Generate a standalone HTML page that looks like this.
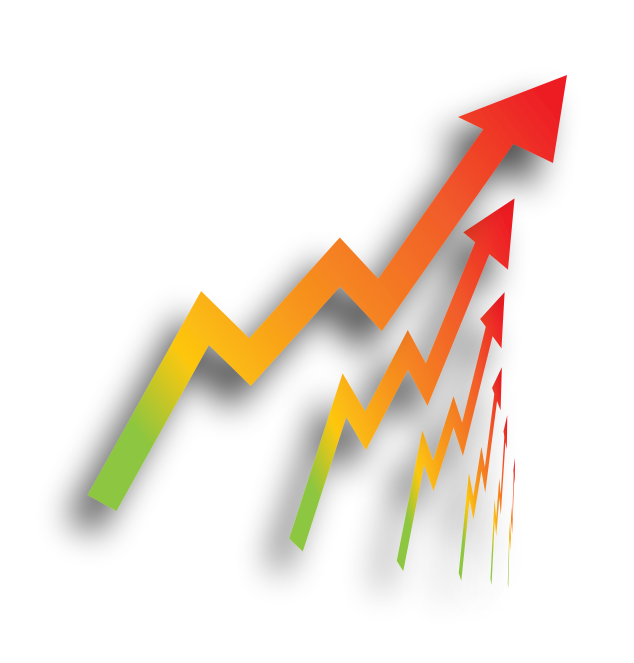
<!DOCTYPE html>
<html><head><meta charset="utf-8"><style>
html,body{margin:0;padding:0;background:#fff;width:634px;height:663px;overflow:hidden}
svg{display:block}
</style></head><body>
<svg id="art" width="634" height="663" viewBox="0 0 634 663" xmlns="http://www.w3.org/2000/svg">
<defs>
<linearGradient id="g" gradientUnits="userSpaceOnUse" x1="100" y1="480" x2="567" y2="120">
<stop offset="0" stop-color="#8dc63f"/>
<stop offset="0.1" stop-color="#8dc63f"/>
<stop offset="0.24" stop-color="#fdc70f"/>
<stop offset="0.45" stop-color="#f7941d"/>
<stop offset="0.75" stop-color="#f15a2a"/>
<stop offset="1" stop-color="#ed1c24"/>
</linearGradient>
<filter id="sh" filterUnits="userSpaceOnUse" x="0" y="0" width="634" height="663">
<feGaussianBlur in="SourceAlpha" stdDeviation="17"/>
<feOffset dx="-20" dy="24" result="b"/>
<feComponentTransfer><feFuncA type="linear" slope="0.7"/></feComponentTransfer>
<feMerge><feMergeNode/><feMergeNode in="SourceGraphic"/></feMerge>
</filter>
</defs>
<g id="arrows"></g>
</svg>
<script>
// shaft centerline of the main arrow
const shaftX = [102, 205, 250, 340, 380, 510];
const shaftY = [503, 318, 362, 262, 305, 120];
// arrowhead triangle
const headX = [458, 567, 553];
const headY = [117, 75, 163];
// copies: start position and scale factors
const copyX = [102, 296, 400, 460, 491, 508];
const copyY = [503, 545, 566, 577, 582, 586];
const copySX = [1, 0.47, 0.225, 0.09, 0.035, 0.015];
const copySY = [1, 0.81, 0.64, 0.49, 0.39, 0.3];

const NS = 'http://www.w3.org/2000/svg';
const root = document.getElementById('arrows');
for (let i = copyX.length - 1; i >= 0; i--) {
  const g = document.createElementNS(NS, 'g');
  
  
  g.setAttribute('filter', 'url(#sh)');
  const inner = document.createElementNS(NS, 'g');
  inner.setAttribute('transform', `translate(${copyX[i]},${copyY[i]}) scale(${copySX[i]},${copySY[i]}) translate(${-shaftX[0]},${-shaftY[0]})`);
  const p = document.createElementNS(NS, 'path');
  
  
  p.setAttribute('d', shaftX.map((x, k) => (k ? 'L' : 'M') + x + ',' + shaftY[k]).join(' '));
  p.setAttribute('fill', 'none');
  p.setAttribute('stroke', 'url(#g)');
  p.setAttribute('stroke-width', '33');
  p.setAttribute('stroke-linejoin', 'miter');
  p.setAttribute('stroke-miterlimit', '10');
  const h = document.createElementNS(NS, 'polygon');
  
  
  h.setAttribute('points', headX.map((x, k) => x + ',' + headY[k]).join(' '));
  h.setAttribute('fill', 'url(#g)');
  inner.appendChild(p);
  inner.appendChild(h);
  g.appendChild(inner);
  root.appendChild(g);
}
</script>
</body></html>
